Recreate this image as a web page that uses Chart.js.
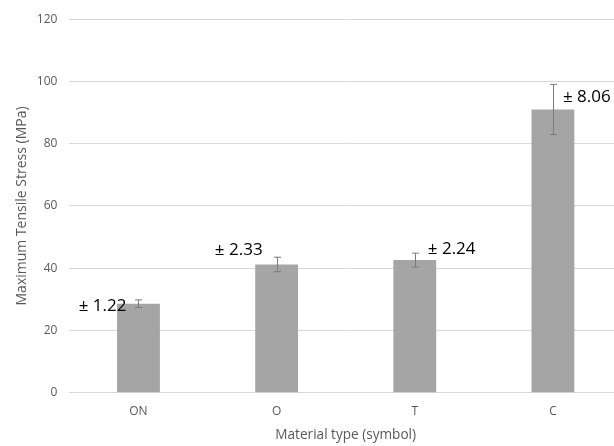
<!DOCTYPE html>
<html>
<head>
<meta charset="utf-8">
<script src="https://cdn.jsdelivr.net/npm/chart.js@4/dist/chart.umd.min.js"></script>
<style>
  html, body { margin: 0; padding: 0; background: #fff; overflow: hidden; }
  #wrap { width: 640px; height: 446px; }
</style>
</head>
<body>
<div id="wrap"><canvas id="c" width="640" height="446"></canvas></div>
<script>
// Tensile test results per material
const materials = ['ON', 'O', 'T', 'C'];
const meanStress = [28.6, 41.2, 42.6, 91.0];
const stdDev = [1.22, 2.33, 2.24, 8.06];
const yTicks = [0, 20, 40, 60, 80, 100, 120];

// Where each "± sd" label sits relative to its bar (pixels from bar centre / bar top)
const labelPlacement = [
  { dx: -12, dy: 2, align: 'right' },
  { dx: -14, dy: -14, align: 'right' },
  { dx: 13, dy: -11, align: 'left' },
  { dx: 10, dy: -12, align: 'left' }
];

const TEXT = '#595959';
const FONT = "'Open Sans', 'Liberation Sans', sans-serif";

const errorBars = {
  id: 'errorBars',
  afterDatasetsDraw(chart) {
    const ctx = chart.ctx;
    const y = chart.scales.y;
    const meta = chart.getDatasetMeta(0);
    ctx.save();
    meta.data.forEach((bar, i) => {
      const x = Math.round(bar.x) + 0.5;
      const top = y.getPixelForValue(meanStress[i] + stdDev[i]);
      const bot = y.getPixelForValue(meanStress[i] - stdDev[i]);
      ctx.strokeStyle = '#7a7a7a';
      ctx.lineWidth = 1;
      ctx.beginPath();
      ctx.moveTo(x, top); ctx.lineTo(x, bot);
      ctx.moveTo(x - 3.5, top); ctx.lineTo(x + 3.5, top);
      ctx.moveTo(x - 3.5, bot); ctx.lineTo(x + 3.5, bot);
      ctx.stroke();

      const p = labelPlacement[i];
      const barTop = y.getPixelForValue(meanStress[i]);
      ctx.fillStyle = '#000';
      ctx.font = '17px ' + FONT;
      ctx.textAlign = p.align;
      ctx.textBaseline = 'middle';
      ctx.fillText('± ' + stdDev[i].toFixed(2), bar.x + p.dx, barTop + p.dy);
    });
    ctx.restore();
  }
};

new Chart(document.getElementById('c'), {
  type: 'bar',
  data: {
    labels: materials,
    datasets: [{
      data: meanStress,
      backgroundColor: '#a5a5a5',
      borderWidth: 0,
      barPercentage: 0.31,
      categoryPercentage: 1.0
    }]
  },
  options: {
    responsive: false,
    animation: false,
    layout: { padding: { top: 8, right: 18, left: 0, bottom: 0 } },
    plugins: { legend: { display: false }, tooltip: { enabled: false } },
    scales: {
      x: {
        grid: { display: false, drawTicks: false },
        border: { color: '#d9d9d9', width: 1 },
        ticks: { color: TEXT, font: { family: FONT, size: 12 }, padding: 12 },
        title: {
          display: true, text: 'Material type (symbol)', color: TEXT,
          font: { family: FONT, size: 13.6 }, padding: { top: 0, bottom: 3 }
        },
        afterFit(s) { s.height = 53.3; }
      },
      y: {
        min: 0, max: 120,
        afterBuildTicks(s) { s.ticks = yTicks.map(v => ({ value: v })); },
        grid: { color: '#d9d9d9', drawTicks: false },
        border: { display: false },
        ticks: { color: TEXT, font: { family: FONT, size: 12 }, padding: 12 },
        title: {
          display: true, text: 'Maximum Tensile Stress (MPa)', color: TEXT,
          font: { family: FONT, size: 14 }, padding: { top: 14, bottom: 0 }
        },
        afterFit(s) { s.width = 69.4; }
      }
    }
  },
  plugins: [errorBars]
});
</script>
</body>
</html>
